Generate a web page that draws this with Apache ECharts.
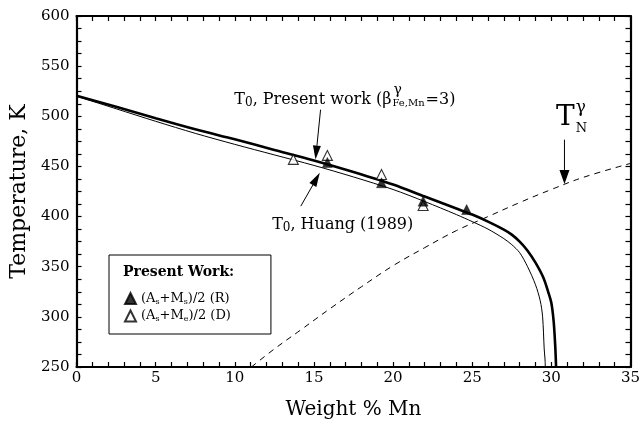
<!DOCTYPE html>
<html><head><meta charset="utf-8">
<script src="https://cdn.jsdelivr.net/npm/echarts@6/dist/echarts.min.js"></script>
<style>html,body{margin:0;padding:0;background:#fff}#c{width:643px;height:425px}</style>
</head><body><div id="c"></div>
<script>
// ---- data ----
const xTicks = [0, 5, 10, 15, 20, 25, 30, 35];
const yTicks = [250, 300, 350, 400, 450, 500, 550, 600];
const xMinorTicks = [0,1,2,3,4,5,6,7,8,9,10,11,12,13,14,15,16,17,18,19,20,21,22,23,24,25,26,27,28,29,30,31,32,33,34,35];
const yMinorTicks = [250,262.5,275,287.5,300,312.5,325,337.5,350,362.5,375,387.5,400,412.5,425,437.5,450,462.5,475,487.5,500,512.5,525,537.5,550,562.5,575,587.5,600];

// T0, Present work (thick)
const presentX = [0, 2.5, 5, 7.5, 10, 12.5, 15, 17.5, 20, 22, 24, 25, 26, 27, 27.5, 28, 28.5, 29, 29.5, 29.8, 30, 30.15, 30.25, 30.3];
const presentT = [520.5, 509.5, 498, 487, 477, 466.5, 456, 444.5, 432, 420, 408, 402, 395, 387, 382, 375, 366, 354, 339, 325, 314, 295, 270, 250];
// T0, Huang (1989) (thin)
const huangX = [0, 2.5, 5, 7.5, 10, 12.5, 15, 17.5, 20, 22, 24, 25, 26, 27, 27.5, 28, 28.5, 29, 29.3, 29.45, 29.55, 29.6, 29.62];
const huangT = [520, 507.5, 495, 483, 472, 461.5, 451, 439.5, 427, 415, 402, 395, 387.5, 378, 372, 364, 350, 332, 316, 300, 268, 258, 250];
// Neel temperature of gamma (dashed)
const neelX = [11.05, 12.5, 14.17, 16, 18, 20, 22, 24, 26, 28, 30, 32, 35];
const neelT = [250, 268, 287, 308, 330, 351, 369, 386, 400, 414, 427, 439, 453];
// (As+Ms)/2 (R) filled triangles
const rX = [15.85, 19.27, 21.9, 24.65];
const rT = [454, 433.7, 415.4, 407];
// (As+Me)/2 (D) open triangles
const dX = [13.7, 15.85, 19.27, 21.9];
const dT = [457, 461, 442, 411];

const zip = (a, b) => a.map((v, i) => [v, b[i]]);
const FONT = 'DejaVu Serif';

function xAxisDef(pos, labels) {
  return {
    type: 'value', position: pos, min: xTicks[0], max: xTicks[xTicks.length - 1],
    interval: xTicks[1] - xTicks[0],
    axisLine: { show: true, onZero: false, lineStyle: { color: '#000', width: 2.2 } },
    axisTick: { show: true, inside: true, length: 5, customValues: xMinorTicks, lineStyle: { color: '#000', width: 1.2 } },
    axisLabel: { show: labels, color: '#000', fontFamily: FONT, fontSize: 15, margin: 4 },
    splitLine: { show: false },
    name: labels ? 'Weight % Mn' : '', nameLocation: 'middle', nameGap: 33,
    nameTextStyle: { fontFamily: FONT, fontSize: 20, color: '#000' }
  };
}
function yAxisDef(pos, labels) {
  return {
    type: 'value', position: pos, min: yTicks[0], max: yTicks[yTicks.length - 1],
    interval: yTicks[1] - yTicks[0],
    axisLine: { show: true, onZero: false, lineStyle: { color: '#000', width: 2.2 } },
    axisTick: { show: true, inside: true, length: 5, customValues: yMinorTicks, lineStyle: { color: '#000', width: 1.2 } },
    axisLabel: { show: labels, color: '#000', fontFamily: FONT, fontSize: 15, margin: 7 },
    splitLine: { show: false },
    name: labels ? 'Temperature, K' : '', nameLocation: 'middle', nameGap: 41,
    nameTextStyle: { fontFamily: FONT, fontSize: 22, color: '#000' }
  };
}

const chart = echarts.init(document.getElementById('c'), null, { renderer: 'canvas' });
chart.setOption({
  backgroundColor: '#fff',
  animation: false,
  grid: { left: 74, right: 11, top: 16, bottom: 56 },
  xAxis: [xAxisDef('bottom', true), xAxisDef('top', false)],
  yAxis: [yAxisDef('left', true), yAxisDef('right', false)],
  legend: {
    data: ['R', 'D'], orient: 'vertical', left: 109, top: 255,
    padding: [37, 40, 11, 15], itemGap: 4, itemWidth: 11, itemHeight: 11,
    borderColor: '#000', borderWidth: 1, backgroundColor: '#fff', selectedMode: false,
    formatter: n => n === 'R'
      ? '{n|(A}{s|s}{n|+M}{s|s}{n|)/2 (R)}'
      : '{n|(A}{s|s}{n|+M}{s|e}{n|)/2 (D)}',
    textStyle: {
      color: '#000', fontFamily: FONT, fontSize: 13,
      rich: {
        n: { fontSize: 13, fontFamily: FONT, color: '#000', lineHeight: 14 },
        s: { fontSize: 8, fontFamily: FONT, color: '#000', lineHeight: 14, verticalAlign: 'bottom', padding: [4, 0, 0, 0] }
      }
    }
  },
  series: [
    { name: 'Huang', type: 'line', data: zip(huangX, huangT), showSymbol: false, smooth: 0.3,
      lineStyle: { color: '#000', width: 1 }, z: 3 },
    { name: 'Present', type: 'line', data: zip(presentX, presentT), showSymbol: false, smooth: 0.3,
      lineStyle: { color: '#000', width: 2.6 }, z: 3 },
    { name: 'TN', type: 'line', data: zip(neelX, neelT), showSymbol: false, smooth: 0.4,
      lineStyle: { color: '#000', width: 1, type: [6, 5] }, z: 2 },
    { name: 'D', type: 'scatter', data: zip(dX, dT), symbol: 'triangle', symbolSize: [10, 10],
      itemStyle: { color: '#fff', borderColor: '#000', borderWidth: 1.1 }, z: 4 },
    { name: 'R', type: 'scatter', data: zip(rX, rT), symbol: 'triangle', symbolSize: [10, 10],
      itemStyle: { color: '#000', borderColor: '#000', borderWidth: 0.5 }, z: 5 }
  ]
});

// ---- annotations (positioned in data coordinates) ----
const ann = {
  presentText: [9.97, 516.8], presentArrowFrom: [15.42, 506.6], presentArrowTo: [15.1, 456.8],
  huangText: [12.36, 392.2], huangArrowFrom: [14.17, 410.4], huangArrowTo: [15.37, 443.6],
  neelText: [30.3, 498.5], neelArrowFrom: [30.83, 476.7], neelArrowTo: [30.83, 432.5]
};
const P = p => chart.convertToPixel({ xAxisIndex: 0, yAxisIndex: 0 }, p);
const mctx = document.createElement('canvas').getContext('2d');
function tw(t, size, weight) { mctx.font = (weight || 'normal') + ' ' + size + 'px "' + FONT + '"'; return mctx.measureText(t).width; }
function txt(x, y, t, size, extra) {
  return Object.assign({ type: 'text', x: x, y: y, z: 100,
    style: Object.assign({ text: t, fontFamily: FONT, fontSize: size, fill: '#000', align: 'left', verticalAlign: 'middle' }, extra || {}) });
}
function run(x, y, pieces) {
  const els = []; let cx = x;
  for (const p of pieces) {
    els.push(txt(cx, y + (p.dy || 0), p.t, p.s));
    cx += tw(p.t, p.s) + (p.gap || 0);
  }
  return { els, end: cx };
}
function arrow(from, to, len, half) {
  const a = P(from), b = P(to);
  const dx = b[0] - a[0], dy = b[1] - a[1], L = Math.hypot(dx, dy);
  const ux = dx / L, uy = dy / L;
  const bx = b[0] - ux * len, by = b[1] - uy * len;
  return [
    { type: 'line', z: 100, shape: { x1: a[0], y1: a[1], x2: bx, y2: by }, style: { stroke: '#000', lineWidth: 1 } },
    { type: 'polygon', z: 100, shape: { points: [[b[0], b[1]], [bx - uy * half, by + ux * half], [bx + uy * half, by - ux * half]] }, style: { fill: '#000' } }
  ];
}
const g = [];
// T0, Present work (beta^gamma_{Fe,Mn}=3)
{
  const p = P(ann.presentText);
  const r1 = run(p[0], p[1], [{ t: 'T', s: 16 }, { t: '0', s: 12, dy: 3 }, { t: ', Present work (β', s: 16 }]);
  g.push(...r1.els);
  g.push(txt(r1.end + 1, p[1] + 4, 'Fe,Mn', 10));
  g.push(txt(r1.end + 2, p[1] - 9, 'γ', 14));
  g.push(txt(r1.end + tw('Fe,Mn', 10) + 2, p[1], '=3)', 16));
}
// T0, Huang (1989)
{
  const p = P(ann.huangText);
  const r = run(p[0], p[1], [{ t: 'T', s: 16 }, { t: '0', s: 12, dy: 3 }, { t: ', Huang (1989)', s: 16 }]);
  g.push(...r.els);
}
// T_N^gamma
{
  const p = P(ann.neelText);
  g.push(txt(p[0], p[1], 'T', 28));
  const w = tw('T', 28);
  g.push(txt(p[0] + w + 1, p[1] - 10, 'γ', 17));
  g.push(txt(p[0] + w + 1, p[1] + 11, 'N', 13));
}
g.push(...arrow(ann.presentArrowFrom, ann.presentArrowTo, 14, 4));
g.push(...arrow(ann.huangArrowFrom, ann.huangArrowTo, 14, 4));
g.push(...arrow(ann.neelArrowFrom, ann.neelArrowTo, 14, 5));
// legend title
g.push({ type: 'text', left: 123, top: 265, z: 100,
  style: { text: 'Present Work:', fontFamily: FONT, fontSize: 14, fontWeight: 'bold', fill: '#000' } });
chart.setOption({ graphic: g });
</script>
</body></html>
